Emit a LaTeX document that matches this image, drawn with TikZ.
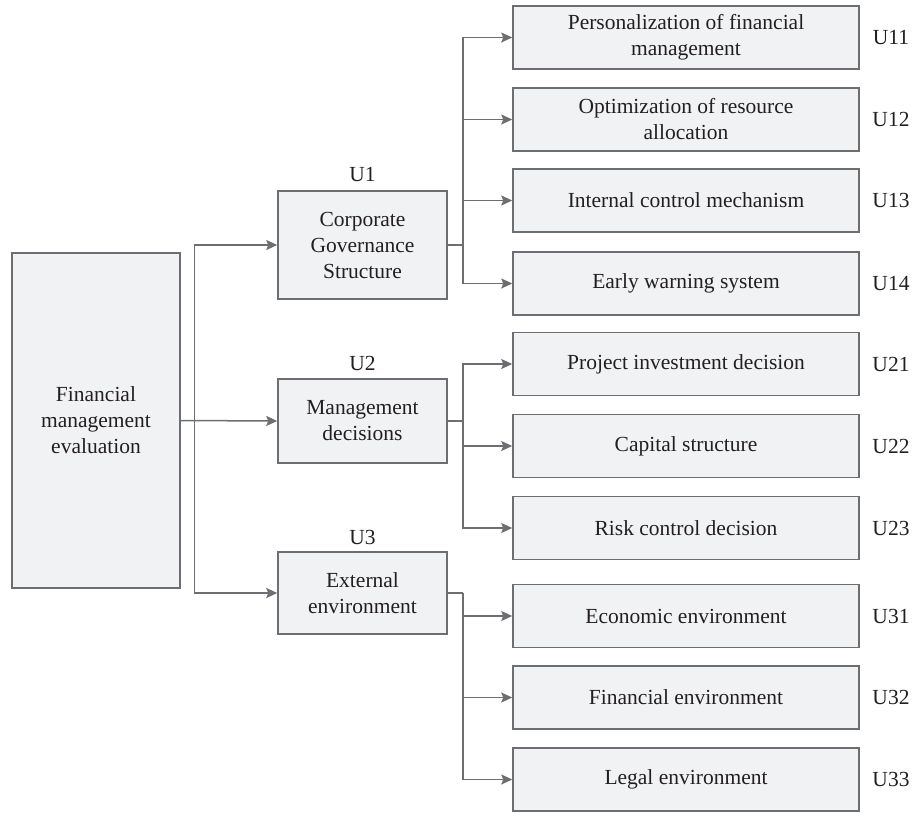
\documentclass[tikz,border=0pt]{standalone}
\usepackage{fontspec}
\setmainfont{Liberation Serif}
\usetikzlibrary{arrows.meta}
\definecolor{boxfill}{HTML}{F1F2F4}
\definecolor{boxline}{HTML}{6D6E71}
\definecolor{txtgray}{HTML}{231F20}
\tikzstyle{box} = [rectangle, draw=boxline, fill=boxfill, line width=1.5pt, text=txtgray, align=center, inner sep=0pt, font=\fontsize{21.5}{26}\selectfont]
\tikzstyle{leaf} = [box, minimum width=346pt, minimum height=63pt]
\tikzstyle{mid} = [box, minimum width=169pt]
\tikzstyle{tag} = [text=txtgray, inner sep=0pt, font=\fontsize{21.5}{26}\selectfont]
\tikzstyle{line} = [line width=1.5pt, draw=boxline]
\tikzstyle{arrow} = [line, -{Stealth[length=11pt,width=10pt,inset=2pt,fill=boxline]}]

\begin{document}
\begin{tikzpicture}[x=1pt,y=-1pt]
\useasboundingbox (0,0) rectangle (913,812);

% Nodes
\node (root) [box, minimum width=168pt, minimum height=335pt] at (96,420.5) {Financial\\management\\evaluation};

\node (u1) [mid, minimum height=108pt] at (362.5,245) {Corporate\\Governance\\Structure};
\node (u2) [mid, minimum height=84pt] at (362.5,421) {Management\\decisions};
\node (u3) [mid, minimum height=82pt] at (362.5,593) {External\\environment};
\node (t1) [tag] at (362.5,175) {U1};
\node (t2) [tag] at (362.5,363) {U2};
\node (t3) [tag] at (362.5,537) {U3};

\node (u11) [leaf] at (686,37.5) {Personalization of financial\\management};
\node (u12) [leaf] at (686,119.5) {Optimization of resource\\allocation};
\node (u13) [leaf] at (686,200.5) {Internal control mechanism};
\node (u14) [leaf] at (686,283.5) {Early warning system};
\node (u21) [leaf] at (686,364) {Project investment decision};
\node (u22) [leaf] at (686,446) {Capital structure};
\node (u23) [leaf] at (686,528) {Risk control decision};
\node (u31) [leaf] at (686,616) {Economic environment};
\node (u32) [leaf] at (686,697.5) {Financial environment};
\node (u33) [leaf] at (686,779.5) {Legal environment};

\foreach \n/\y in {u11/37.5, u12/119.5, u13/200.5, u14/283.5, u21/364, u22/446, u23/528, u31/616, u32/697.5, u33/779.5}
  \node (t\n) [tag] at (891,\y) {\MakeUppercase{\n}};

% Fork points
\coordinate (fork) at (194.5,421);
\coordinate (b1) at (463,245);
\coordinate (b2) at (463,421);
\coordinate (b3) at (463,593);

% Arrows
\draw [arrow] (root.east) -- (u2.west);
\draw [arrow] (fork) |- (u1.west);
\draw [arrow] (fork) |- (u3.west);

\draw [line] (u1.east) -- (b1);
\draw [line] (u2.east) -- (b2);
\draw [line] (u3.east) -- (b3);

\foreach \k in {u11,u12,u13,u14} \draw [arrow] (b1) |- (\k.west);
\foreach \k in {u21,u22,u23} \draw [arrow] (b2) |- (\k.west);
\foreach \k in {u31,u32,u33} \draw [arrow] (b3) |- (\k.west);

\end{tikzpicture}
\end{document}
